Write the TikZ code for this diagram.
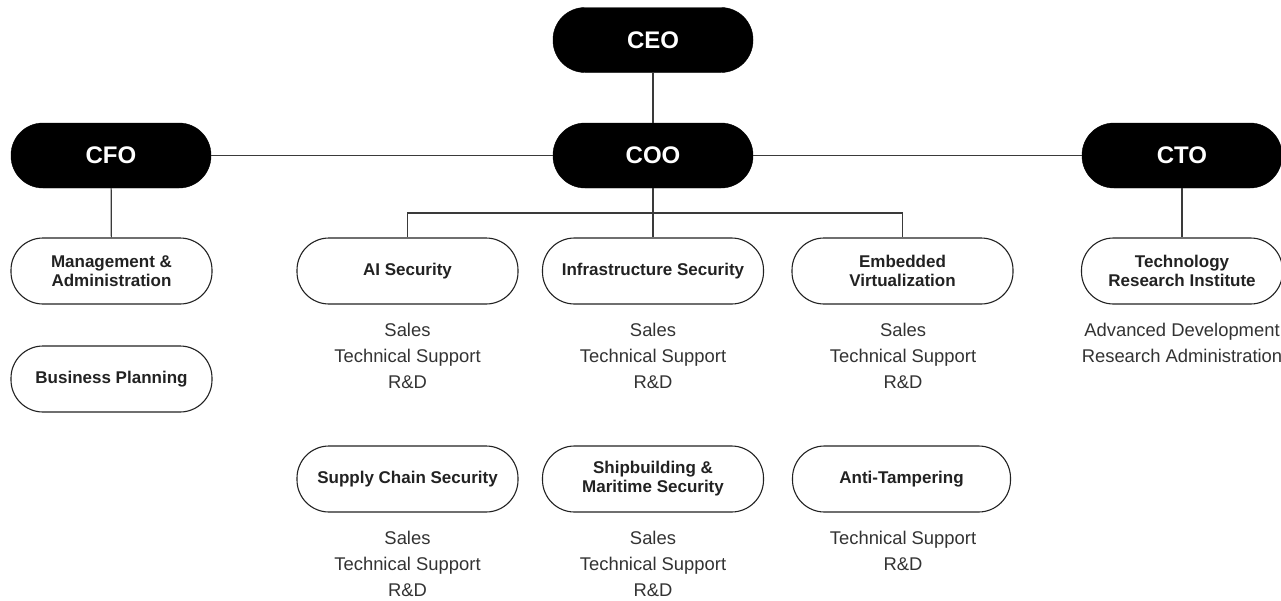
\documentclass[tikz,border=0pt]{standalone}
\usepackage{fontspec}
\setmainfont{Liberation Sans}
\definecolor{ink}{HTML}{222222}
\definecolor{subink}{HTML}{333333}
\definecolor{wire}{HTML}{3A3A3A}
\begin{document}
\begin{tikzpicture}[x=1pt,y=-1pt,
  exec/.style={rectangle, rounded corners=32pt, fill=black, draw=black, minimum width=200pt, minimum height=65pt, text=white, font=\fontsize{24}{26}\selectfont\bfseries, inner sep=0pt},
  unit/.style={rectangle, rounded corners=32pt, fill=white, draw=ink, line width=1.1pt, minimum width=#1, minimum height=66pt, text=ink, font=\fontsize{17}{19}\selectfont\bfseries, align=center, inner sep=0pt},
  unit/.default=221pt,
  subs/.style={text=subink, font=\fontsize{18.4}{26}\selectfont, align=center, inner sep=0pt},
  wireline/.style={draw=wire, line width=1.2pt}]
\useasboundingbox (0,0) rectangle (1281,600);
\fill[white] (0,0) rectangle (1281,600);

% executives
\node[exec] (ceo) at (653,40) {CEO};
\node[exec] (coo) at (653,155.5) {COO};
\node[exec] (cfo) at (111,155.5) {CFO};
\node[exec] (cto) at (1182,155.5) {CTO};

% CFO units
\node[unit=201pt] (mgmt) at (111.5,271) {Management \&\\Administration};
\node[unit=201pt] (biz) at (111.5,379) {Business Planning};

% COO units row 1
\node[unit] (ai) at (407.5,271) {AI Security};
\node[unit] (infra) at (653,271) {Infrastructure Security};
\node[unit] (emb) at (902.5,271) {Embedded\\Virtualization};

% COO units row 2
\node[unit] (supply) at (407.5,479) {Supply Chain Security};
\node[unit] (ship) at (653,479) {Shipbuilding \&\\Maritime Security};
\node[unit=218pt] (anti) at (901.5,479) {Anti-Tampering};

% CTO unit
\node[unit=201pt] (tri) at (1182,271) {Technology\\Research Institute};

% sub-department lists
\node[subs] (aisub) at (407.5,356) {Sales\\Technical Support\\R\&D};
\node[subs] (infrasub) at (653,356) {Sales\\Technical Support\\R\&D};
\node[subs] (embsub) at (903,356) {Sales\\Technical Support\\R\&D};
\node[subs] (supplysub) at (407.5,563.5) {Sales\\Technical Support\\R\&D};
\node[subs] (shipsub) at (653,563.5) {Sales\\Technical Support\\R\&D};
\node[subs] (antisub) at (903,550.5) {Technical Support\\R\&D};
\node[subs] (trisub) at (1182,343) {Advanced Development\\Research Administration};

% connectors
\coordinate (bus) at (653,213);
\draw[wireline] (ceo) -- (coo);
\draw[wireline] (cfo) -- (coo);
\draw[wireline] (coo) -- (cto);
\draw[wireline] (cfo) -- (mgmt);
\draw[wireline] (cto) -- (tri);
\draw[wireline] (coo) -- (bus);
\draw[wireline] (ai.north) |- (bus) -| (emb.north);
\draw[wireline] (bus) -- (infra.north);
\end{tikzpicture}
\end{document}
